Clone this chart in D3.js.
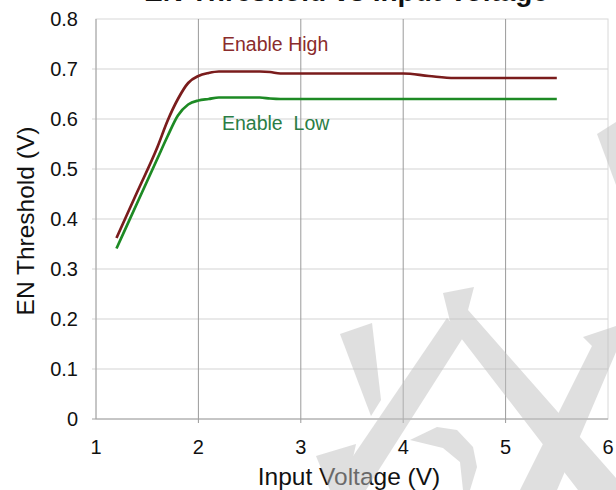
<!DOCTYPE html>
<html><head><meta charset="utf-8">
<script src="https://cdn.jsdelivr.net/npm/d3@7"></script>
<style>body{margin:0;background:#fff}svg{display:block}text{font-family:"Liberation Sans",Arial,sans-serif;white-space:pre}</style>
</head><body><div id="c"></div>
<script>
const vin = [1.2, 1.4, 1.6, 1.7, 1.8, 1.9, 2.0, 2.1, 2.2, 2.4, 2.6, 2.7, 2.8, 3.0, 3.5, 4.0, 4.25, 4.5, 5.0, 5.5];
const enHigh = [0.362, 0.453, 0.544, 0.597, 0.640, 0.672, 0.686, 0.692, 0.695, 0.695, 0.695, 0.694, 0.691, 0.691, 0.691, 0.691, 0.686, 0.682, 0.682, 0.682];
const enLow = [0.341, 0.431, 0.521, 0.566, 0.607, 0.629, 0.637, 0.640, 0.643, 0.643, 0.643, 0.641, 0.640, 0.640, 0.640, 0.640, 0.640, 0.640, 0.640, 0.640];
const xTicks = [1, 2, 3, 4, 5, 6];
const yTicks = [0, 0.1, 0.2, 0.3, 0.4, 0.5, 0.6, 0.7, 0.8];
const seriesNames = ["Enable High", "Enable  Low"];
const title = "EN Threshold vs Input Voltage";
const xTitle = "Input Voltage (V)";
const yTitle = "EN Threshold (V)";

const W = 616, H = 490;
const m = {left: 96, right: 8, top: 19, bottom: 71};
const svg = d3.select("#c").append("svg").attr("width", W).attr("height", H);
const x = d3.scaleLinear().domain([1, 6]).range([m.left, W - m.right]);
const y = d3.scaleLinear().domain([0, 0.8]).range([H - m.bottom, m.top]);

// frame
svg.append("rect").attr("x", x(1)).attr("y", y(0.8)).attr("width", x(6) - x(1)).attr("height", y(0) - y(0.8))
  .attr("fill", "none").attr("stroke", "#d8d8d8");
// horizontal grid
svg.append("g").selectAll("line").data(yTicks.slice(1, -1)).join("line")
  .attr("x1", x(1) - 4).attr("x2", x(6)).attr("y1", d => y(d)).attr("y2", d => y(d))
  .attr("stroke", "#d4d4d4").attr("stroke-width", 1.2);
// vertical grid
svg.append("g").selectAll("line").data(xTicks.slice(1, -1)).join("line")
  .attr("x1", d => x(d)).attr("x2", d => x(d)).attr("y1", y(0.8)).attr("y2", y(0) + 4)
  .attr("stroke", "#9a9a9a").attr("stroke-width", 1);
// axes lines
svg.append("line").attr("x1", x(1)).attr("x2", x(1)).attr("y1", y(0.8)).attr("y2", y(0)).attr("stroke", "#a0a0a0");
svg.append("line").attr("x1", x(1) - 4).attr("x2", x(6)).attr("y1", y(0)).attr("y2", y(0)).attr("stroke", "#a0a0a0");

// tick labels
svg.append("g").selectAll("text").data(yTicks).join("text")
  .attr("x", 78).attr("y", d => y(d)).attr("dy", "0.35em").attr("text-anchor", "end")
  .attr("font-size", 20).attr("fill", "#111").text(d => d === 0 ? "0" : d3.format(".1f")(d));
svg.append("g").selectAll("text").data(xTicks).join("text")
  .attr("x", d => x(d)).attr("y", 454).attr("text-anchor", "middle")
  .attr("font-size", 20).attr("fill", "#111").text(d => d);

// axis titles
svg.append("text").attr("x", 349).attr("y", 485).attr("text-anchor", "middle").attr("font-size", 24.5).attr("fill", "#111").text(xTitle);
svg.append("text").attr("transform", "translate(34,221) rotate(-90)").attr("text-anchor", "middle").attr("font-size", 24.5).attr("fill", "#111").text(yTitle);
// chart title (cut off at top)
svg.append("text").attr("x", 346).attr("y", 1).attr("text-anchor", "middle").attr("font-size", 28).attr("font-weight", "bold").attr("fill", "#111").text(title);

// lines
const line = d3.line().x(d => x(d[0])).y(d => y(d[1])).curve(d3.curveMonotoneX);
const colors = ["#7a1c1c", "#1d8a24"];
[enHigh, enLow].forEach((vals, i) => {
  svg.append("path").datum(vin.map((v, j) => [v, vals[j]])).attr("d", line)
    .attr("fill", "none").attr("stroke", colors[i]).attr("stroke-width", 2.7);
});
// series labels
svg.append("text").attr("x", 222).attr("y", 51).attr("font-size", 19.5).attr("fill", "#8a2c2c").text(seriesNames[0]);
svg.append("text").attr("x", 222).attr("y", 130).attr("font-size", 19.5).attr("fill", "#2a7d45").text(seriesNames[1]);

// watermark (decorative)
const wm = svg.append("g").attr("fill", "#c0c0c0").attr("opacity", 0.5);
[
  [[443,293],[474,287],[468,310],[616,478],[616,490],[578,490],[451,325]],
  [[447,318],[464,336],[366,490],[330,490]],
  [[340,334],[372,323],[381,400],[371,416]],
  [[316,456],[356,444],[346,490],[330,490]],
  [[410,440],[437,427],[457,430],[473,447],[477,467],[470,490],[463,490],[460,462],[443,448]],
  [[583,337],[616,326],[616,352],[557,490],[520,490],[592,346]],
  [[597,134],[616,122],[616,185]]
].forEach(p => wm.append("polygon").attr("points", p.map(q => q.join(",")).join(" ")));
</script></body></html>
